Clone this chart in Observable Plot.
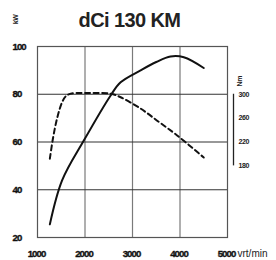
<!DOCTYPE html>
<html>
<head>
<meta charset="utf-8">
<script src="https://cdn.jsdelivr.net/npm/d3@7"></script>
<script src="https://cdn.jsdelivr.net/npm/@observablehq/plot@0.6"></script>
<style>
  html, body { margin: 0; padding: 0; background: #fff; }
</style>
</head>
<body>
<div id="chart"></div>
<script>
const title = "dCi 130 KM";
const xTicks = [1000, 2000, 3000, 4000, 5000];
const yTicks = [20, 40, 60, 80, 100];
const nmTicks = [300, 260, 220, 180];
const xUnit = "vrt/min";
const yUnit = "kW";
const nmUnit = "Nm";

const powerRpm = [1260, 1520, 1975, 2540, 2750, 3170, 3500, 3800, 4080, 4500];
const powerKw  = [25.5, 44, 60.6, 79.5, 85, 90, 93.5, 95.8, 95.5, 91];

const torqueRpm = [1260, 1330, 1420, 1520, 1600, 1700, 2000, 2540, 2750, 3170, 3550, 3940, 4500];
const torqueNm  = [192, 228, 262, 287, 297, 301, 302, 301, 295, 276, 254, 231, 194];

// torque mapped onto the kW scale: 300 Nm <-> 80, 180 Nm <-> 50
const nmToKw = nm => (nm + 20) / 4;

const power = powerRpm.map((r, i) => ({rpm: r, v: powerKw[i]}));
const torque = torqueRpm.map((r, i) => ({rpm: r, v: nmToKw(torqueNm[i])}));

const font = "'Liberation Sans', Arial, sans-serif";

const chart = Plot.plot({
  width: 276,
  height: 260,
  marginLeft: 37,
  marginRight: 49,
  marginTop: 46,
  marginBottom: 23,
  x: {domain: [1000, 5000], axis: null},
  y: {domain: [20, 100], axis: null},
  style: {fontFamily: font, background: "#fff", overflow: "visible"},
  marks: [
    Plot.ruleX(xTicks.slice(1, -1), {stroke: "#7a7a7a", strokeWidth: 1.2, strokeOpacity: 1}),
    Plot.ruleY(yTicks.slice(1, -1), {stroke: "#333", strokeWidth: 1.2, strokeOpacity: 1}),
    Plot.frame({stroke: "#555", strokeWidth: 1.2}),
    Plot.line(torque, {x: "rpm", y: "v", curve: "catmull-rom", stroke: "#111", strokeWidth: 2, strokeDasharray: "5,3.5"}),
    Plot.line(power, {x: "rpm", y: "v", curve: "catmull-rom", stroke: "#111", strokeWidth: 2}),
    // left tick labels
    Plot.text(yTicks, {x: 1000, y: d => d, text: d => String(d), dx: -25, textAnchor: "start", fontWeight: "bold", fontSize: 9.6, fill: "#111", stroke: "#111", strokeWidth: 0.35}),
    // bottom tick labels
    Plot.text(xTicks, {x: d => d, y: 20, text: d => String(d), dy: 16, dx: -1, fontWeight: "bold", fontSize: 9.6, fill: "#111", stroke: "#111", strokeWidth: 0.35}),
    Plot.text([xUnit], {x: 5000, y: 20, text: d => d, dy: 16, dx: 10, textAnchor: "start", fontSize: 10, fill: "#222"}),
    // right torque axis
    Plot.ruleX([5000], {y1: nmToKw(180), y2: nmToKw(300), dx: 6, stroke: "#222", strokeWidth: 1.3}),
    Plot.text(nmTicks, {x: 5000, y: d => nmToKw(d), text: d => String(d), dx: 11, textAnchor: "start", fontWeight: "bold", fontSize: 7, fill: "#222"}),
    Plot.text([nmUnit], {x: 5000, y: nmToKw(300), text: d => d, dx: 12, dy: -13, rotate: -90, fontWeight: "bold", fontSize: 7, fill: "#222"}),
    // kW unit
    Plot.text([yUnit], {x: 1000, y: 100, text: d => d, dx: -22, dy: -27, rotate: -90, fontWeight: "bold", fontSize: 7, fill: "#222"}),
    // title
    Plot.text([title], {x: 3000, y: 100, text: d => d, dx: -3, dy: -26, fontWeight: "bold", fontSize: 20, fill: "#222"})
  ]
});
// condensed look for the tick labels
d3.select(chart).selectAll("g[font-size='9.6'] text").attr("letter-spacing", "-0.9");
d3.select(chart).selectAll("g[font-size='7'] text").attr("letter-spacing", "-0.4");
d3.select(chart).selectAll("g[font-size='20'] text").attr("letter-spacing", "-0.6");
document.getElementById("chart").appendChild(chart);
</script>
</body>
</html>
